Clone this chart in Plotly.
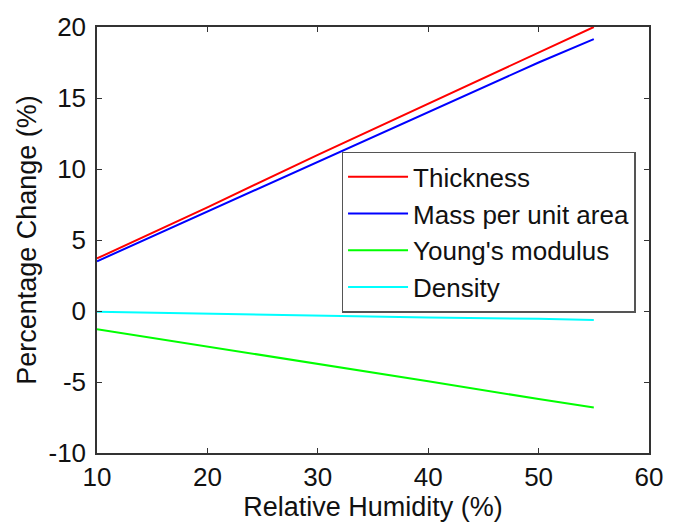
import plotly.graph_objects as go

rh = [10, 20, 30, 40, 50, 55]
thickness = [3.7, 7.3, 11.0, 14.6, 18.2, 20.0]
mass = [3.5, 7.0, 10.5, 14.0, 17.5, 19.15]
youngs = [-1.28, -2.5, -3.7, -4.95, -6.2, -6.8]
density = [-0.05, -0.2, -0.3, -0.45, -0.55, -0.63]

x_ticks = [10, 20, 30, 40, 50, 60]
y_ticks = [-10, -5, 0, 5, 10, 15, 20]
y_ticktext = ["-10", "-5", "0", "5", "10", "15", "20"]

series = [
    ("Thickness", thickness, "#ff0000"),
    ("Mass per unit area", mass, "#0000ff"),
    ("Young's modulus", youngs, "#00ff00"),
    ("Density", density, "#00ffff"),
]

FAM = "Liberation Sans, Arial, sans-serif"

fig = go.Figure()
for i, (name, vals, col) in enumerate(series):
    fig.add_trace(go.Scatter(x=rh, y=vals, mode="lines", name=name,
                             line=dict(color=col, width=2), legendgroup=f"g{i}"))

axis_common = dict(showline=True, linecolor="#333333", linewidth=1.5, mirror="ticks",
                   ticks="inside", ticklen=5, tickcolor="#333333", showgrid=False,
                   zeroline=False, tickfont=dict(family=FAM, size=26, color="#111111"))

fig.update_layout(
    width=675, height=523,
    margin=dict(l=97, r=16, t=24, b=69),
    paper_bgcolor="white", plot_bgcolor="white",
    font=dict(family=FAM, size=26, color="#111111"),
    xaxis=dict(range=[10, 60], tickvals=x_ticks,
               title=dict(text="Relative Humidity (%)", standoff=0,
                          font=dict(family=FAM, size=27, color="#111111")),
               **axis_common),
    yaxis=dict(range=[-10, 20], tickvals=y_ticks, ticktext=y_ticktext,
               title=dict(text="Percentage Change (%)", standoff=4,
                          font=dict(family=FAM, size=27, color="#111111")),
               ticklabelstandoff=4, **axis_common),
    legend=dict(x=0.443, y=0.707, xanchor="left", yanchor="top",
                bordercolor="#555555", borderwidth=1.5, bgcolor="white",
                font=dict(family=FAM, size=26, color="#111111"),
                tracegroupgap=0, itemwidth=60),
    showlegend=True,
)

fig.write_html("out.html")
